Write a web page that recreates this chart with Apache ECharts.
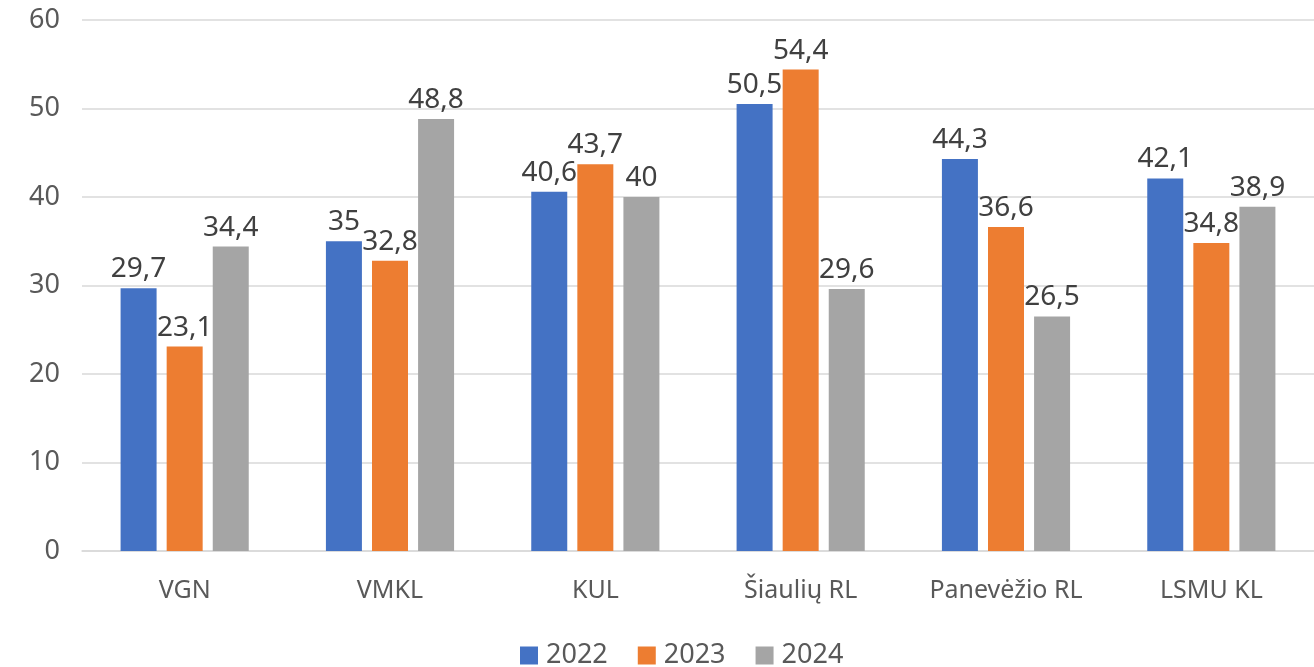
<!DOCTYPE html>
<html>
<head>
<meta charset="utf-8">
<script src="https://cdn.jsdelivr.net/npm/echarts@6/dist/echarts.min.js"></script>
<style>
  html, body { margin: 0; padding: 0; background: #fff; }
  #chart { width: 1314px; height: 667px; }
</style>
</head>
<body>
<div id="chart"></div>
<script>
const categories = ["VGN", "VMKL", "KUL", "Šiaulių RL", "Panevėžio RL", "LSMU KL"];
const years = ["2022", "2023", "2024"];
const values2022 = [29.7, 35, 40.6, 50.5, 44.3, 42.1];
const values2023 = [23.1, 32.8, 43.7, 54.4, 36.6, 34.8];
const values2024 = [34.4, 48.8, 40, 29.6, 26.5, 38.9];
const colors = ["#4472C4", "#ED7D31", "#A5A5A5"];

const font = "'Noto Sans', 'Open Sans', sans-serif";
const chart = echarts.init(document.getElementById("chart"));

const makeSeries = (name, data, color) => ({
  name: name,
  type: "bar",
  data: data,
  barWidth: 36,
  barGap: "28%",
  itemStyle: { color: color },
  label: {
    show: true,
    position: "top",
    distance: 5,
    color: "#404040",
    fontSize: 28,
    fontFamily: font,
    formatter: (p) => String(p.value).replace(".", ","),
  },
});

chart.setOption({
  animation: false,
  textStyle: { fontFamily: font },
  grid: { top: 20, bottom: 116, left: 82, right: 0 },
  legend: {
    bottom: -2,
    padding: 0,
    left: 520,
    itemWidth: 18,
    itemHeight: 18,
    itemGap: 30,
    icon: "rect",
    textStyle: { fontSize: 27, color: "#595959", fontFamily: font, padding: [0, 0, 0, 3] },
    data: years,
  },
  xAxis: {
    type: "category",
    data: categories,
    axisTick: { show: false },
    axisLine: { lineStyle: { color: "#d9d9d9", width: 1.5 } },
    axisLabel: { interval: 0, fontSize: 25, color: "#595959", margin: 27, fontFamily: font },
  },
  yAxis: {
    type: "value",
    min: 0,
    max: 60,
    interval: 10,
    axisLabel: { fontSize: 27, color: "#595959", margin: 22, fontFamily: font },
    splitLine: { lineStyle: { color: "#d9d9d9", width: 1.5 } },
  },
  series: [
    makeSeries(years[0], values2022, colors[0]),
    makeSeries(years[1], values2023, colors[1]),
    makeSeries(years[2], values2024, colors[2]),
  ],
});
</script>
</body>
</html>
